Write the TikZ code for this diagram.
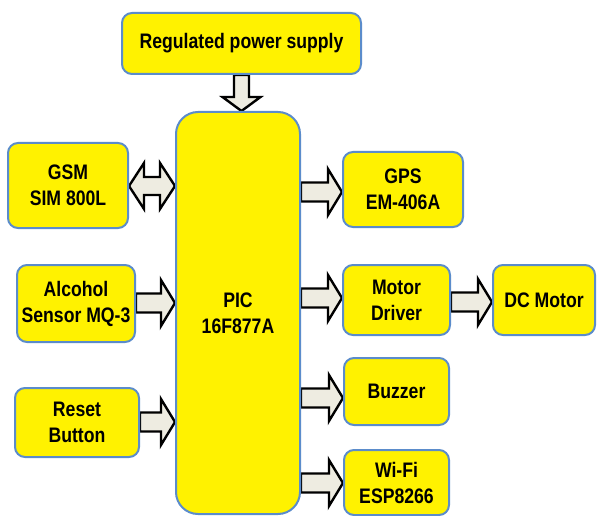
\documentclass[tikz,border=0pt]{standalone}
\usepackage{fontspec}
\setmainfont{Liberation Sans}[FakeStretch=0.84]
\usetikzlibrary{calc}
\pgfdeclarelayer{bg}
\pgfsetlayers{bg,main}
\definecolor{boxblue}{HTML}{5B8CCB}
\definecolor{arrfill}{HTML}{EEECE1}
\tikzset{
  blk/.style={draw=boxblue, line width=2pt, fill=yellow, rounded corners=10pt,
    align=center, font=\fontsize{21}{26}\selectfont\bfseries, inner sep=0pt},
  blockarr/.style={draw=black, line width=2.4pt, fill=arrfill, line join=miter}
}
% right block arrow from node #1 (east) to node #2 (west) at pixel y #3
\newcommand\rarrow[3]{%
  \draw[blockarr] let \p1=(#1.east |- 0,#3), \p2=(#2.west |- 0,#3) in
    (\x1,\y1+9.5pt) -- (\x2-14pt,\y1+9.5pt) -- (\x2-14pt,\y1+23pt) -- (\x2,\y1)
    -- (\x2-14pt,\y1-23pt) -- (\x2-14pt,\y1-9.5pt) -- (\x1,\y1-9.5pt) -- cycle;}
\begin{document}
\begin{tikzpicture}[x=1pt,y=-1pt]
\useasboundingbox (0,0) rectangle (597,516);
\node[blk, minimum width=239pt, minimum height=61pt] (reg) at (241.5,43.5) {Regulated power supply};
\node[blk, minimum width=124pt, minimum height=402pt, rounded corners=22pt] (pic) at (238,313) {PIC\\16F877A};
\node[blk, minimum width=120pt, minimum height=85pt] (gsm) at (68,185.5) {GSM\\SIM 800L};
\node[blk, minimum width=118pt, minimum height=77pt] (alc) at (76,303.5) {Alcohol\\Sensor MQ-3};
\node[blk, minimum width=124pt, minimum height=69pt] (rst) at (77,422.5) {Reset\\Button};
\node[blk, minimum width=120pt, minimum height=75pt] (gps) at (403,189.5) {GPS\\EM-406A};
\node[blk, minimum width=107pt, minimum height=70pt] (mdr) at (396.5,300) {Motor\\Driver};
\node[blk, minimum width=102pt, minimum height=70pt] (dcm) at (544,300) {DC Motor};
\node[blk, minimum width=105pt, minimum height=67pt] (buz) at (396.5,391.5) {Buzzer};
\node[blk, minimum width=105pt, minimum height=65pt] (wifi) at (396.5,482.5) {Wi-Fi\\ESP8266};
\begin{pgfonlayer}{bg}
  % power arrow (down)
  \draw[blockarr] let \p1=(reg.south), \p2=(pic.north) in
    (\x1-7.5pt,\y1) -- (\x1-7.5pt,\y2+14pt) -- (\x1-19pt,\y2+14pt) -- (\x1,\y2)
    -- (\x1+19pt,\y2+14pt) -- (\x1+7.5pt,\y2+14pt) -- (\x1+7.5pt,\y1) -- cycle;
  % GSM double arrow
  \draw[blockarr] let \p1=(gsm.east |- 0,186), \p2=(pic.west |- 0,186) in
    (\x1,\y1) -- (\x1+15pt,\y1+23pt) -- (\x1+15pt,\y1+9pt) -- (\x2-15pt,\y1+9pt)
    -- (\x2-15pt,\y1+23pt) -- (\x2,\y1) -- (\x2-15pt,\y1-23pt) -- (\x2-15pt,\y1-9pt)
    -- (\x1+15pt,\y1-9pt) -- (\x1+15pt,\y1-23pt) -- cycle;
  \rarrow{alc}{pic}{303}
  \rarrow{rst}{pic}{422}
  \rarrow{pic}{gps}{192}
  \rarrow{pic}{mdr}{298}
  \rarrow{mdr}{dcm}{302}
  \rarrow{pic}{buz}{398}
  \rarrow{pic}{wifi}{483}
\end{pgfonlayer}
\end{tikzpicture}
\end{document}
